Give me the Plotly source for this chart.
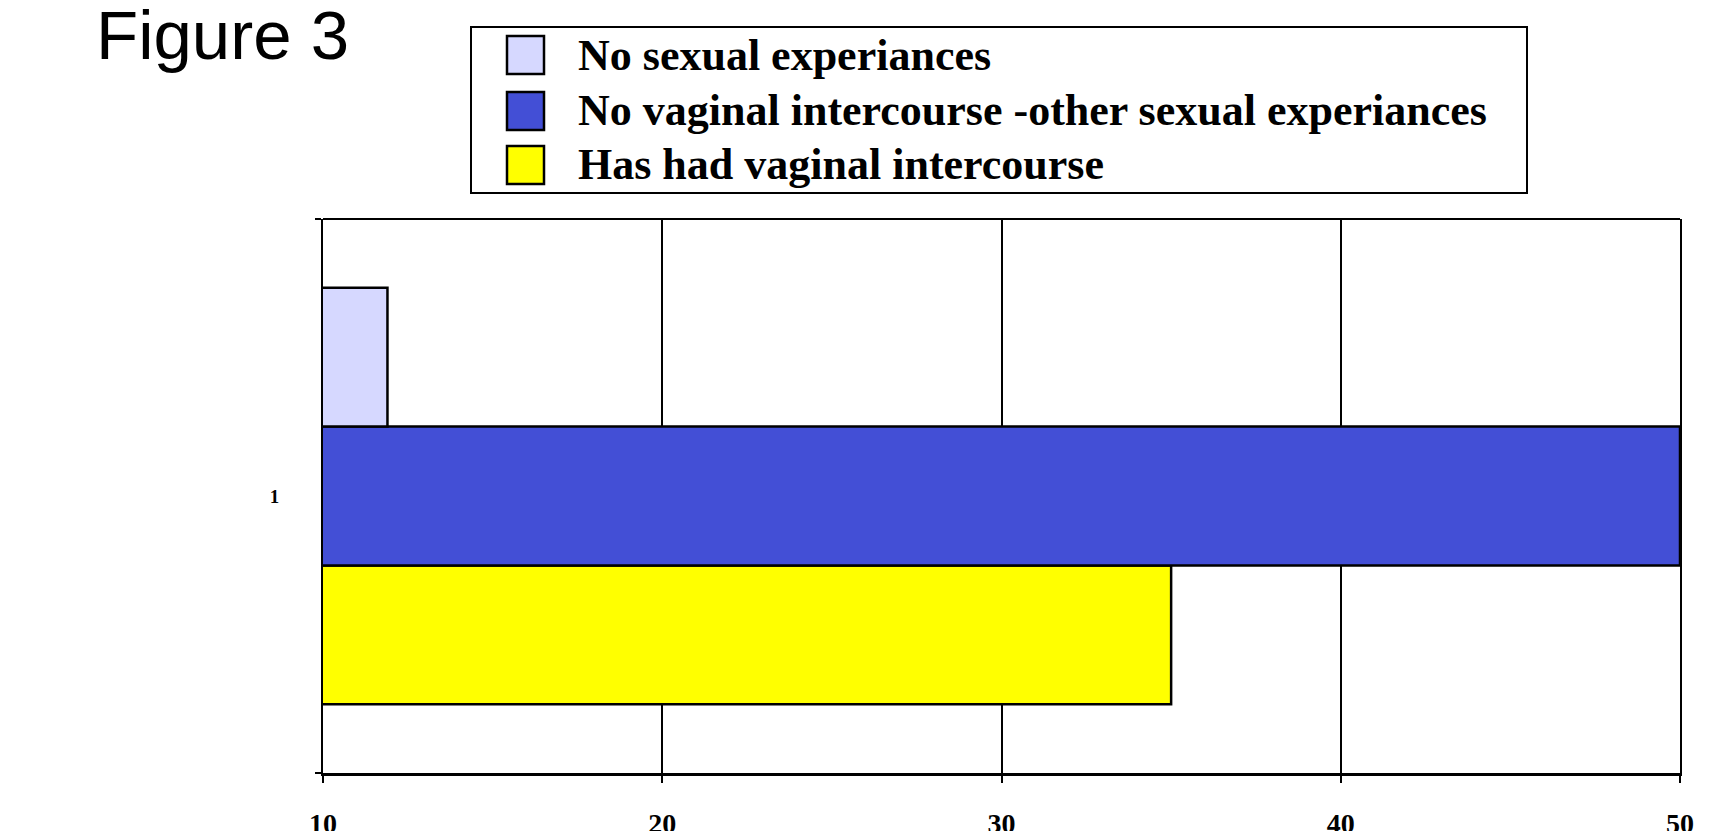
import plotly.graph_objects as go

# ---- data ----
categories = ["1"]
series_names = [
    "No sexual experiances",
    "No vaginal intercourse -other sexual experiances",
    "Has had vaginal intercourse",
]
series_values = [[11.9], [50.0], [35.0]]
series_colors = ["#D6D8FF", "#434FD6", "#FFFF00"]
x_tick_vals = [10, 20, 30, 40, 50]
x_tick_labels = ["10", "20", "30", "40", "50"]
title_text = "Figure 3"

W, H = 1718, 831
OFF = 8  # page body margin
# plot area in page pixels: x 323..1680, y 219..773
ML, MT = 323 - OFF, 219 - OFF
MR, MB = W - (1680 - OFF), H - (773 - OFF)
PW, PH = W - ML - MR, H - MT - MB


def px(x):
    return (x - OFF - ML) / PW


def py(y):
    return (H - MB - (y - OFF)) / PH


SERIF = "Times New Roman, Liberation Serif, serif"
SANS = "Arial, Liberation Sans, sans-serif"

fig = go.Figure()
# plotly stacks horizontal grouped bars bottom-up, so add in reverse
for name, vals, col in reversed(list(zip(series_names, series_values, series_colors))):
    fig.add_trace(go.Bar(
        y=categories, x=vals, name=name, orientation="h",
        marker=dict(color=col, line=dict(color="black", width=2.5)),
        showlegend=False,
    ))

fig.update_layout(
    width=W, height=H,
    margin=dict(l=ML, r=MR, t=MT, b=MB, autoexpand=False),
    paper_bgcolor="white", plot_bgcolor="white",
    barmode="group", bargap=0.248, bargroupgap=0,
    xaxis=dict(
        range=[10, 50], tickvals=x_tick_vals, ticktext=x_tick_labels,
        showgrid=True, gridcolor="black", gridwidth=1.5,
        showline=True, linecolor="black", linewidth=3,
        ticks="outside", ticklen=7, tickwidth=1.5, tickcolor="black",
        tickfont=dict(family=SERIF, size=28, color="black", weight="bold"),
        ticklabelstandoff=16, zeroline=False,
    ),
    yaxis=dict(
        type="category", tickson="boundaries",
        showline=True, linecolor="black", linewidth=2, mirror=True,
        ticks="outside", ticklen=6, tickwidth=2, tickcolor="black",
        tickfont=dict(family=SERIF, size=19, color="black", weight="bold"),
        ticklabelstandoff=38, showgrid=False,
    ),
)

shapes = [
    # top border of plot area
    dict(type="line", xref="paper", yref="paper", x0=0, x1=1, y0=1, y1=1,
         line=dict(color="black", width=2)),
    # legend box
    dict(type="rect", xref="paper", yref="paper",
         x0=px(471), x1=px(1527), y0=py(193), y1=py(27),
         line=dict(color="black", width=2), fillcolor="white"),
]
row_centers = [55, 111, 165]
annotations = [
    dict(text=title_text, xref="paper", yref="paper", x=px(94), y=py(36),
         xanchor="left", yanchor="middle", showarrow=False,
         font=dict(family=SANS, size=69, color="black")),
]
for name, col, yc in zip(series_names, series_colors, row_centers):
    shapes.append(dict(type="rect", xref="paper", yref="paper",
                       x0=px(507), x1=px(544), y0=py(yc + 19), y1=py(yc - 19),
                       line=dict(color="black", width=2.5), fillcolor=col))
    annotations.append(dict(text="<b>" + name + "</b>", xref="paper", yref="paper",
                            x=px(576), y=py(yc), xanchor="left", yanchor="middle",
                            showarrow=False,
                            font=dict(family=SERIF, size=44, color="black")))
fig.update_layout(shapes=shapes, annotations=annotations)

fig.write_html("out.html")
